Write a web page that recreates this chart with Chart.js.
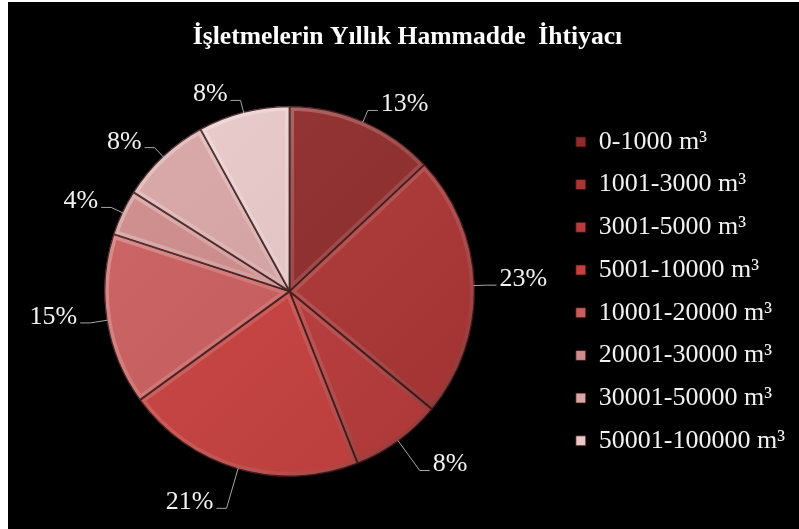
<!DOCTYPE html>
<html>
<head>
<meta charset="utf-8">
<script src="https://cdn.jsdelivr.net/npm/chart.js@4"></script>
<style>
  html, body { margin: 0; padding: 0; background: #ffffff; }
  #wrap { position: absolute; left: 8px; top: 2px; width: 791px; height: 527px; background: #000000; }
</style>
</head>
<body>
<div id="wrap"><canvas id="pieChart"></canvas></div>
<script>
const TITLE = "İşletmelerin Yıllık Hammadde  İhtiyacı";
const categories = ["0-1000 m³", "1001-3000 m³", "3001-5000 m³", "5001-10000 m³",
  "10001-20000 m³", "20001-30000 m³", "30001-50000 m³", "50001-100000 m³"];
const percentages = [13, 23, 8, 21, 15, 4, 8, 8];
const sliceColors = ["#902b2b", "#ae3535", "#bb3a3a", "#c8403e",
  "#cb5d5d", "#d08b8b", "#d9a5a5", "#eac9c9"];

const SERIF = "'Liberation Serif', 'Times New Roman', serif";

// bevel look on each slice + outside labels with leader lines
const bevelAndLabels = {
  id: "bevelAndLabels",
  afterDatasetsDraw(chart) {
    const ctx = chart.ctx;
    const arcs = chart.getDatasetMeta(0).data;
    arcs.forEach((arc) => {
      const { x, y, startAngle, endAngle, outerRadius } = arc.getProps(["x", "y", "startAngle", "endAngle", "outerRadius"], true);
      ctx.save();
      ctx.beginPath();
      ctx.moveTo(x, y);
      ctx.arc(x, y, outerRadius, startAngle, endAngle);
      ctx.closePath();
      ctx.clip();
      let shade = ctx.createLinearGradient(x - outerRadius, y - outerRadius, x + outerRadius, y + outerRadius);
      shade.addColorStop(0, "rgba(255,255,255,0.06)");
      shade.addColorStop(1, "rgba(0,0,0,0.08)");
      ctx.fillStyle = shade;
      ctx.fill();
      let bevel = ctx.createLinearGradient(x - outerRadius, y - outerRadius, x + outerRadius, y + outerRadius);
      bevel.addColorStop(0, "rgba(255,255,255,0.35)");
      bevel.addColorStop(0.5, "rgba(255,255,255,0.12)");
      bevel.addColorStop(1, "rgba(0,0,0,0.3)");
      ctx.lineWidth = 9;
      ctx.strokeStyle = bevel;
      ctx.stroke();
      ctx.lineWidth = 2;
      ctx.strokeStyle = "rgba(50,15,15,0.75)";
      ctx.stroke();
      ctx.restore();
    });

    // labels, pushed a bit further out below the centre so the text clears the pie
    ctx.save();
    ctx.font = "26px " + SERIF;
    ctx.fillStyle = "#f2f2f2";
    ctx.strokeStyle = "#a6a6a6";
    ctx.lineWidth = 1;
    ctx.textBaseline = "alphabetic";
    arcs.forEach((arc, idx) => {
      const { x, y, startAngle, endAngle, outerRadius } = arc.getProps(["x", "y", "startAngle", "endAngle", "outerRadius"], true);
      const mid = (startAngle + endAngle) / 2;
      const cos = Math.cos(mid), sin = Math.sin(mid);
      const dist = 12 + 30 * Math.max(0, sin);
      const p0x = x + (outerRadius - 1) * cos, p0y = y + (outerRadius - 1) * sin;
      const p1x = x + (outerRadius + dist) * cos, p1y = y + (outerRadius + dist) * sin;
      const dir = cos >= 0 ? 1 : -1;
      const p2x = p1x + dir * 10;
      ctx.beginPath();
      ctx.moveTo(p0x, p0y);
      ctx.lineTo(p1x, p1y);
      ctx.lineTo(p2x, p1y);
      ctx.stroke();
      ctx.textAlign = dir > 0 ? "left" : "right";
      ctx.fillText(percentages[idx] + "%", p2x + dir * 3, p1y + 1);
    });
    ctx.restore();
  }
};

function drawChart() {
  const canvas = document.getElementById("pieChart");
  const myChart = new Chart(canvas, {
    type: "pie",
    data: {
      labels: categories,
      datasets: [{
        data: percentages,
        backgroundColor: sliceColors,
        borderColor: "rgba(50,15,15,0.8)",
        borderWidth: 1
      }]
    },
    options: {
      responsive: true,
      maintainAspectRatio: false,
      animation: false,
      layout: { padding: { left: 12, right: 4, bottom: 52 } },
      plugins: {
        title: {
          display: true,
          text: TITLE,
          color: "#ffffff",
          font: { family: SERIF, size: 25.6, weight: "bold" },
          padding: { top: 20, bottom: 53 }
        },
        legend: {
          position: "right",
          fullSize: false,
          labels: {
            color: "#f2f2f2",
            font: { family: SERIF, size: 26 },
            boxWidth: 10,
            boxHeight: 10,
            padding: 16.7
          }
        },
        tooltip: { enabled: false }
      }
    },
    plugins: [bevelAndLabels]
  });
}

Promise.all([
  document.fonts.load("26px 'Liberation Serif'"),
  document.fonts.load("bold 26px 'Liberation Serif'")
]).then(drawChart, drawChart);
</script>
</body>
</html>
